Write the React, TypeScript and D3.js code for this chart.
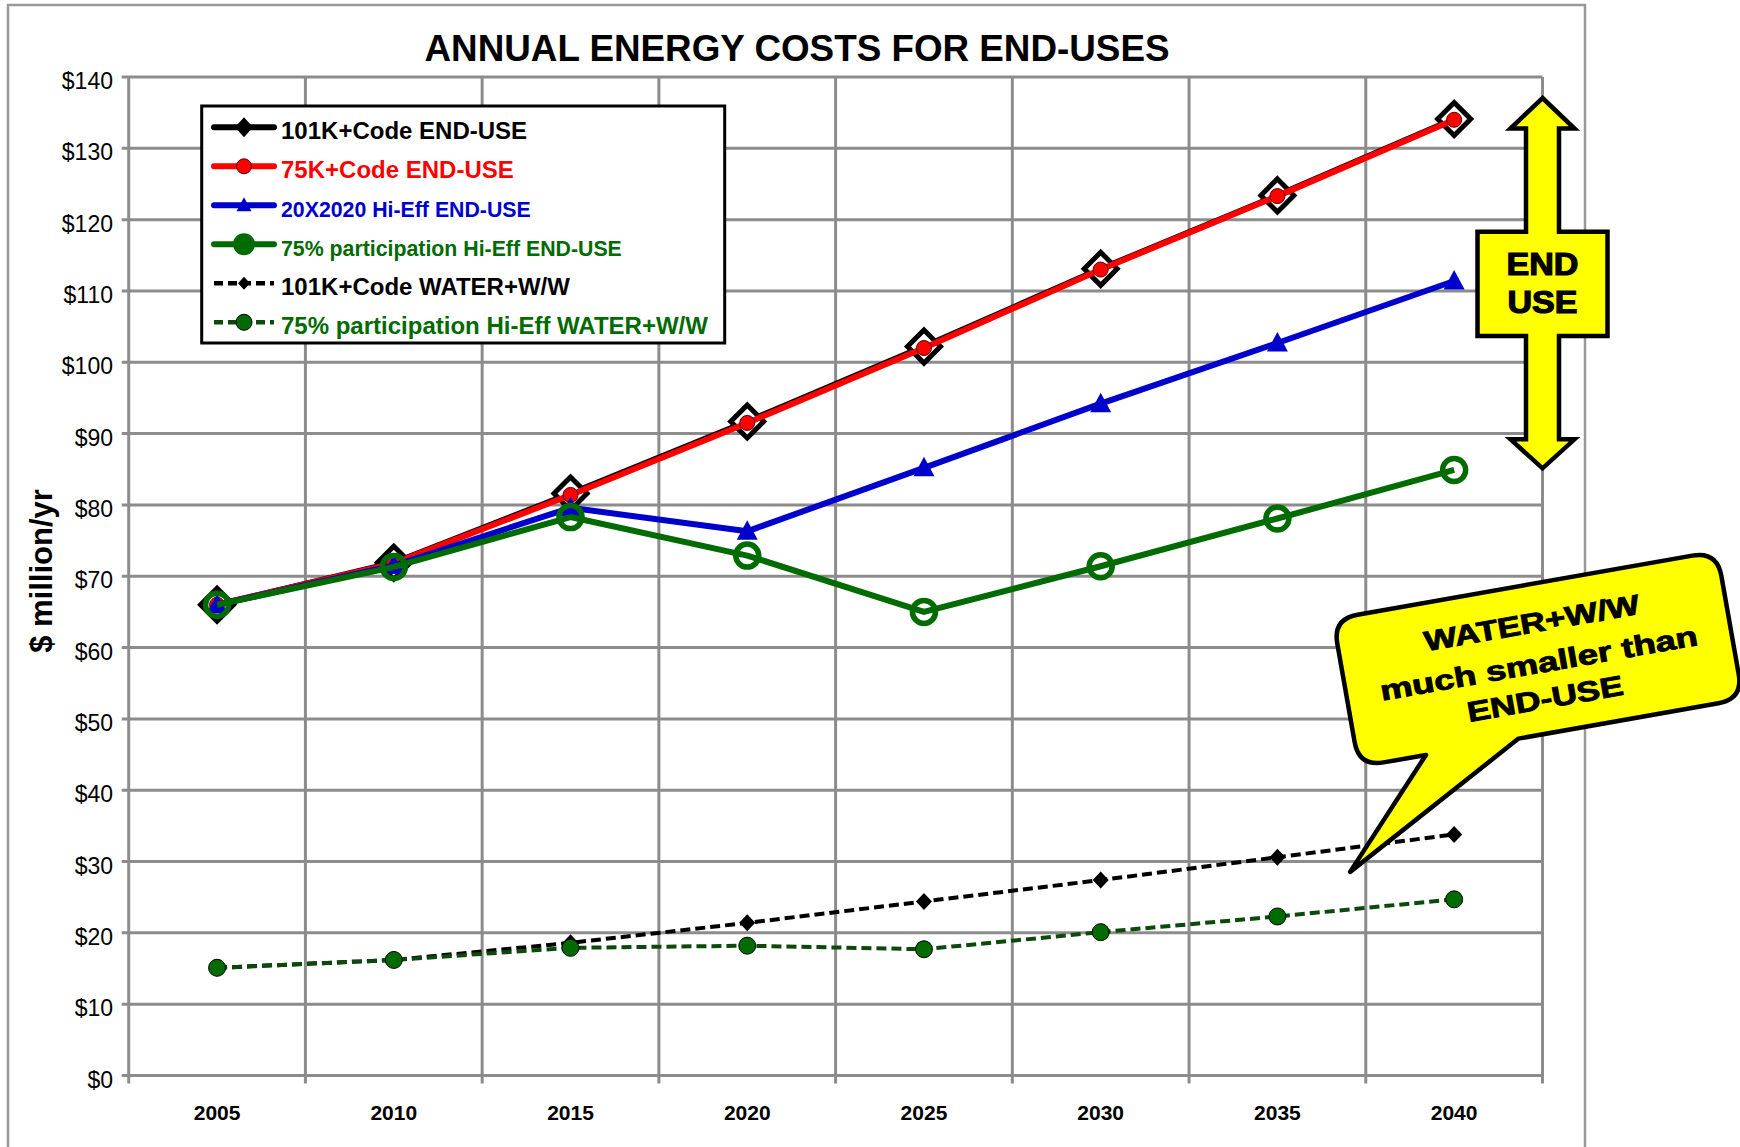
import React from 'react';
import * as d3 from 'd3';

// ---- data ----
const YEARS = ['2005', '2010', '2015', '2020', '2025', '2030', '2035', '2040'];
const Y_TICKS = [0, 10, 20, 30, 40, 50, 60, 70, 80, 90, 100, 110, 120, 130, 140];

const END_USE_101K = [66.0, 71.9, 81.6, 91.7, 102.2, 113.1, 123.4, 134.1];
const END_USE_75K = [66.0, 71.8, 81.4, 91.5, 102.0, 113.0, 123.3, 134.0];
const HI_EFF_20X2020 = [66.0, 71.5, 79.6, 76.3, 85.2, 94.2, 102.7, 111.4];
const HI_EFF_75PCT = [66.0, 71.3, 78.3, 72.9, 65.0, 71.4, 78.1, 84.9];
const WATER_101K = [15.1, 16.2, 18.6, 21.4, 24.4, 27.4, 30.6, 33.8];
const WATER_75PCT = [15.1, 16.2, 17.9, 18.2, 17.7, 20.1, 22.3, 24.7];

const SERIES_NAMES = [
  '101K+Code END-USE',
  '75K+Code END-USE',
  '20X2020 Hi-Eff END-USE',
  '75% participation Hi-Eff END-USE',
  '101K+Code WATER+W/W',
  '75% participation Hi-Eff WATER+W/W',
];

const W = 1740;
const H = 1147;
const PLOT = { left: 128.7, right: 1542.5, top: 77, bottom: 1075.5 };
const FONT = '"Liberation Sans", Arial, Helvetica, sans-serif';
const GRID = '#8c8c8c';
const GREEN = '#006b00';

const series = [
  { name: SERIES_NAMES[0], values: END_USE_101K, stroke: '#000', text: '#000', width: 6, dash: null, marker: 'diamondOpen', fs: 24 },
  { name: SERIES_NAMES[1], values: END_USE_75K, stroke: '#ff0000', text: '#ff0000', width: 6, dash: null, marker: 'redDot', fs: 24 },
  { name: SERIES_NAMES[2], values: HI_EFF_20X2020, stroke: '#0000cc', text: '#0000cc', width: 6, dash: null, marker: 'triangle', fs: 21.3 },
  { name: SERIES_NAMES[3], values: HI_EFF_75PCT, stroke: GREEN, text: GREEN, width: 6, dash: null, marker: 'ring', fs: 21.3 },
  { name: SERIES_NAMES[4], values: WATER_101K, stroke: '#000', text: '#000', width: 4, dash: '10 5', marker: 'smallDiamond', fs: 24 },
  { name: SERIES_NAMES[5], values: WATER_75PCT, stroke: '#0b4a0b', text: GREEN, width: 4, dash: '10 5', marker: 'greenDot', fs: 24 },
];

function Marker({ type, x, y, legend }: { type: string; x: number; y: number; legend?: boolean }) {
  const t = `translate(${x},${y})`;
  if (type === 'diamondOpen') {
    if (legend) return <path transform={t} d="M0,-10 L9,0 L0,10 L-9,0 Z" fill="#000" />;
    return <path transform={t} d="M0,-16.5 L16.5,0 L0,16.5 L-16.5,0 Z" fill="#fff" stroke="#000" strokeWidth={5} strokeLinejoin="miter" />;
  }
  if (type === 'redDot') return <circle transform={t} r={7.5} fill="#ff0000" stroke="#550000" strokeWidth={1} />;
  if (type === 'triangle') {
    return legend
      ? <path transform={t} d="M0,-8 L7.5,6 L-7.5,6 Z" fill="#0000cc" />
      : <path transform={t} d="M0,-11 L10.5,8.5 L-10.5,8.5 Z" fill="#0000cc" />;
  }
  if (type === 'ring') {
    return legend
      ? <circle transform={t} r={11} fill={GREEN} />
      : <circle transform={t} r={11.5} fill="none" stroke={GREEN} strokeWidth={5.5} />;
  }
  if (type === 'smallDiamond') {
    return legend
      ? <path transform={t} d="M0,-6.5 L6,0 L0,6.5 L-6,0 Z" fill="#000" />
      : <path transform={t} d="M0,-8.5 L8,0 L0,8.5 L-8,0 Z" fill="#000" />;
  }
  return <circle transform={t} r={legend ? 8 : 8.5} fill={GREEN} stroke="#000" strokeWidth={1} />;
}

export default function App() {
  const x = d3.scaleBand<string>().domain(YEARS).range([PLOT.left, PLOT.right]).padding(0);
  const y = d3.scaleLinear().domain([0, 140]).range([PLOT.bottom, PLOT.top]);
  const cx = (yr: string) => (x(yr) as number) + x.bandwidth() / 2;
  const boundaries = [...YEARS.map(yr => x(yr) as number), PLOT.right];

  const line = d3.line<number>().x((_, i) => cx(YEARS[i])).y(d => y(d));

  // legend layout
  const lg = { x: 201.7, y: 106, w: 523, h: 237, row0: 139.3, step: 39 };

  // END USE double arrow (annotation), centred on plot right edge
  const ax = PLOT.right;
  const arrowPts = [
    [ax, 98], [ax + 32, 128.5], [ax + 16.5, 128.5], [ax + 16.5, 231.7], [ax + 65, 231.7], [ax + 65, 336],
    [ax + 16.5, 336], [ax + 16.5, 439.3], [ax + 32, 439.3], [ax, 468.3], [ax - 32, 439.3], [ax - 16.5, 439.3],
    [ax - 16.5, 336], [ax - 65, 336], [ax - 65, 231.7], [ax - 16.5, 231.7], [ax - 16.5, 128.5], [ax - 32, 128.5],
  ];

  // callout bubble in its own rotated frame
  const bw = 195, bh = 75, r = 25;
  const bubble = [
    `M${-bw + r},${-bh}`, `L${bw - r},${-bh}`, `Q${bw},${-bh} ${bw},${-bh + r}`,
    `L${bw},${bh - r}`, `Q${bw},${bh} ${bw - r},${bh}`,
    `L-33,${bh}`, `L-222,177`, `L-127,${bh}`,
    `L${-bw + r},${bh}`, `Q${-bw},${bh} ${-bw},${bh - r}`,
    `L${-bw},${-bh + r}`, `Q${-bw},${-bh} ${-bw + r},${-bh}`, 'Z',
  ].join(' ');

  return (
    <svg width={W} height={H} style={{ position: 'absolute', left: 0, top: 0, background: '#fff' }} fontFamily={FONT}>
      <rect x={0} y={0} width={W} height={H} fill="#fff" />
      <rect x={8} y={5} width={1577} height={1300} fill="none" stroke="#999" strokeWidth={2.5} />

      <text x={797} y={61} textAnchor="middle" fontSize={36} fontWeight="bold" textLength={745} lengthAdjust="spacingAndGlyphs">
        ANNUAL ENERGY COSTS FOR END-USES
      </text>

      {/* grid */}
      {Y_TICKS.map(t => (
        <line key={'h' + t} x1={PLOT.left - 7} x2={PLOT.right} y1={y(t)} y2={y(t)} stroke={GRID} strokeWidth={3} />
      ))}
      {boundaries.map((bx, i) => (
        <line key={'v' + i} x1={bx} x2={bx} y1={PLOT.top} y2={PLOT.bottom + 8} stroke={GRID} strokeWidth={3} />
      ))}

      {/* axes labels */}
      {Y_TICKS.map(t => (
        <text key={'yl' + t} x={113} y={y(t) + 12} textAnchor="end" fontSize={23}>{`$${t}`}</text>
      ))}
      {YEARS.map(yr => (
        <text key={'xl' + yr} x={cx(yr)} y={1120} textAnchor="middle" fontSize={21} fontWeight="bold">{yr}</text>
      ))}
      <text transform="translate(52,571) rotate(-90)" textAnchor="middle" fontSize={31} fontWeight="bold">$ million/yr</text>

      {/* series */}
      {series.map(s => (
        <g key={s.name}>
          <path d={line(s.values) || ''} fill="none" stroke={s.stroke} strokeWidth={s.width}
            strokeDasharray={s.dash || undefined} strokeLinejoin="round" />
          {s.values.map((v, i) => (
            <Marker key={i} type={s.marker} x={cx(YEARS[i])} y={y(v)} />
          ))}
        </g>
      ))}

      {/* legend */}
      <rect x={lg.x} y={lg.y} width={lg.w} height={lg.h} fill="#fff" stroke="#000" strokeWidth={3} />
      {series.map((s, i) => {
        const by = lg.row0 + i * lg.step;
        const ly = by - 12;
        return (
          <g key={'lg' + i}>
            <line x1={214} x2={274} y1={ly} y2={ly} stroke={s.stroke} strokeWidth={s.dash ? 4.5 : 6}
              strokeDasharray={s.dash ? '9 5' : undefined} strokeLinecap={s.dash ? 'butt' : 'round'} />
            <Marker type={s.marker} x={244} y={ly} legend />
            <text x={281} y={by} fontSize={s.fs} fontWeight="bold" fill={s.text}>{s.name}</text>
          </g>
        );
      })}

      {/* END USE arrow */}
      <polygon points={arrowPts.map(p => p.join(',')).join(' ')} fill="#ffff00" stroke="#000" strokeWidth={4.5} strokeLinejoin="miter" />
      <text x={ax} y={275} textAnchor="middle" fontSize={31} fontWeight="bold" stroke="#000" strokeWidth={1.2} textLength={72} lengthAdjust="spacingAndGlyphs">END</text>
      <text x={ax} y={313} textAnchor="middle" fontSize={31} fontWeight="bold" stroke="#000" strokeWidth={1.2} textLength={70} lengthAdjust="spacingAndGlyphs">USE</text>

      {/* callout */}
      <g transform="translate(1538,659) rotate(-10)">
        <path d={bubble} fill="#ffff00" stroke="#000" strokeWidth={4.5} strokeLinejoin="round" />
        <text x={0} y={-27} textAnchor="middle" fontSize={28} fontWeight="bold" stroke="#000" strokeWidth={0.9} textLength={218} lengthAdjust="spacingAndGlyphs">WATER+W/W</text>
        <text x={0} y={14} textAnchor="middle" fontSize={28} fontWeight="bold" stroke="#000" strokeWidth={0.9} textLength={322} lengthAdjust="spacingAndGlyphs">much smaller than</text>
        <text x={0} y={50} textAnchor="middle" fontSize={28} fontWeight="bold" stroke="#000" strokeWidth={0.9} textLength={158} lengthAdjust="spacingAndGlyphs">END-USE</text>
      </g>
    </svg>
  );
}
